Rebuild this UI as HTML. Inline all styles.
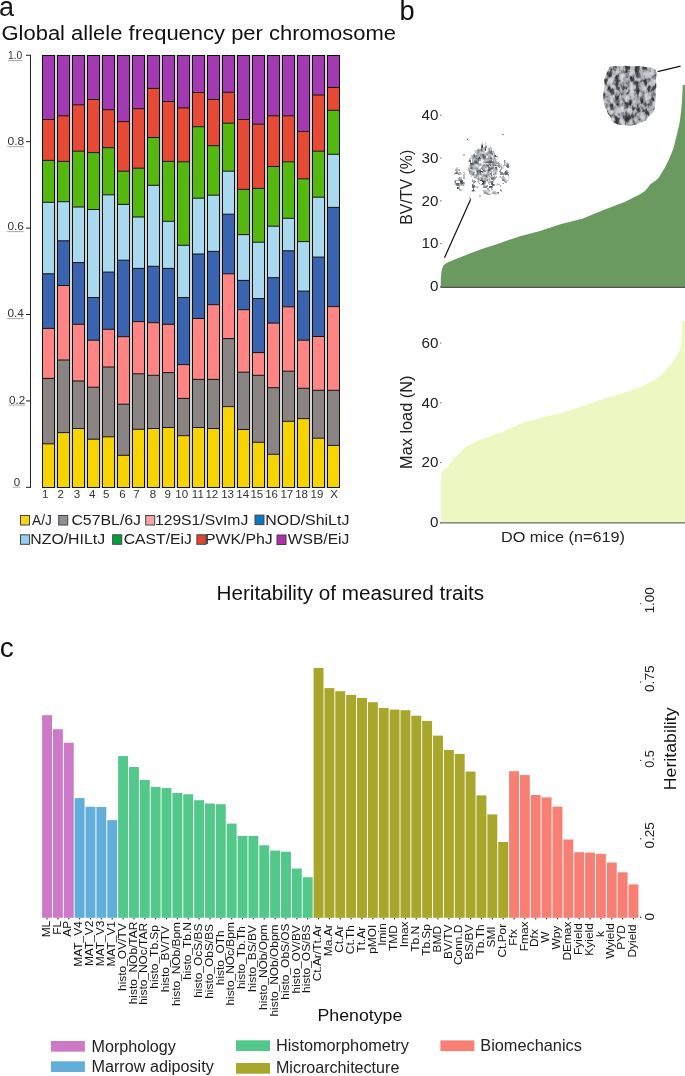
<!DOCTYPE html>
<html><head><meta charset="utf-8"><style>
html,body{margin:0;padding:0;background:#fff;overflow:hidden;}
svg{display:block;font-family:"Liberation Sans", sans-serif;will-change:transform;}
</style></head><body>
<svg width="685" height="1076" viewBox="0 0 685 1076">
<defs>
<filter id="blur1" x="-10%" y="-10%" width="120%" height="120%"><feGaussianBlur stdDeviation="0.35"/></filter>
<filter id="bonetex" x="595" y="60" width="70" height="72" filterUnits="userSpaceOnUse" color-interpolation-filters="sRGB">
  <feTurbulence type="fractalNoise" baseFrequency="0.2 0.14" numOctaves="3" seed="4" result="n"/>
  <feColorMatrix in="n" type="matrix" values="1 0 0 0 0  1 0 0 0 0  1 0 0 0 0  0 0 0 0 1" result="g0"/>
  <feComponentTransfer in="g0" result="g">
    <feFuncR type="table" tableValues="0.16 0.17 0.2 0.32 0.62 0.76 0.82 0.86 0.9"/>
    <feFuncG type="table" tableValues="0.17 0.18 0.21 0.33 0.63 0.77 0.83 0.87 0.91"/>
    <feFuncB type="table" tableValues="0.18 0.19 0.22 0.34 0.65 0.79 0.85 0.89 0.92"/>
  </feComponentTransfer>
  <feComposite in="g" in2="SourceAlpha" operator="in" result="c"/>
  <feGaussianBlur in="c" stdDeviation="0.35"/>
</filter>
<filter id="sparsetex" x="445" y="128" width="72" height="75" filterUnits="userSpaceOnUse" color-interpolation-filters="sRGB">
  <feTurbulence type="fractalNoise" baseFrequency="0.2" numOctaves="2" seed="9" result="n"/>
  <feColorMatrix in="n" type="matrix" values="1.4 0 0 0 -0.05  1.4 0 0 0 -0.035  1.4 0 0 0 -0.02  0 0 0 0 1" result="g"/>
  <feTurbulence type="fractalNoise" baseFrequency="0.22" numOctaves="2" seed="2" result="n2"/>
  <feComponentTransfer in="n2" result="m"><feFuncA type="discrete" tableValues="0 0 0 0 1 1 1 1"/></feComponentTransfer>
  <feComposite in="SourceAlpha" in2="m" operator="arithmetic" k1="1" k2="0" k3="0" k4="0" result="mask"/>
  <feComposite in="g" in2="mask" operator="in" result="c"/>
  <feGaussianBlur in="c" stdDeviation="0.3"/>
</filter>
<filter id="densetex" x="445" y="128" width="72" height="75" filterUnits="userSpaceOnUse" color-interpolation-filters="sRGB">
  <feTurbulence type="fractalNoise" baseFrequency="0.26 0.2" numOctaves="3" seed="12" result="n"/>
  <feColorMatrix in="n" type="matrix" values="1.5 0 0 0 -0.12  1.5 0 0 0 -0.105  1.5 0 0 0 -0.09  0 0 0 0 1" result="g"/>
  <feComposite in="g" in2="SourceAlpha" operator="in" result="c"/>
  <feGaussianBlur in="c" stdDeviation="0.3"/>
</filter>
</defs>
<rect width="685" height="1076" fill="#fff"/>
<rect x="42" y="55" width="298" height="433" fill="#d6d6d6"/>
<rect x="42.5" y="55.5" width="12" height="64.00" fill="#A43AB2"/>
<rect x="42.5" y="119.5" width="12" height="40.90" fill="#E64A35"/>
<rect x="42.5" y="160.4" width="12" height="41.90" fill="#55B80F"/>
<rect x="42.5" y="202.3" width="12" height="71.50" fill="#A9D9EF"/>
<rect x="42.5" y="273.8" width="12" height="54.60" fill="#3A64B0"/>
<rect x="42.5" y="328.4" width="12" height="50.00" fill="#FF8585"/>
<rect x="42.5" y="378.4" width="12" height="65.40" fill="#8A8583"/>
<rect x="42.5" y="443.8" width="12" height="43.70" fill="#F7D300"/>
<line x1="42.5" x2="54.5" y1="119.5" y2="119.5" stroke="#111" stroke-width="1"/>
<line x1="42.5" x2="54.5" y1="160.4" y2="160.4" stroke="#111" stroke-width="1"/>
<line x1="42.5" x2="54.5" y1="202.3" y2="202.3" stroke="#111" stroke-width="1"/>
<line x1="42.5" x2="54.5" y1="273.8" y2="273.8" stroke="#111" stroke-width="1"/>
<line x1="42.5" x2="54.5" y1="328.4" y2="328.4" stroke="#111" stroke-width="1"/>
<line x1="42.5" x2="54.5" y1="378.4" y2="378.4" stroke="#111" stroke-width="1"/>
<line x1="42.5" x2="54.5" y1="443.8" y2="443.8" stroke="#111" stroke-width="1"/>
<rect x="42.5" y="55.5" width="12" height="432.0" fill="none" stroke="#111" stroke-width="1"/>
<rect x="57.5" y="55.5" width="12" height="60.30" fill="#A43AB2"/>
<rect x="57.5" y="115.8" width="12" height="45.60" fill="#E64A35"/>
<rect x="57.5" y="161.4" width="12" height="40.30" fill="#55B80F"/>
<rect x="57.5" y="201.7" width="12" height="39.10" fill="#A9D9EF"/>
<rect x="57.5" y="240.8" width="12" height="44.70" fill="#3A64B0"/>
<rect x="57.5" y="285.5" width="12" height="74.50" fill="#FF8585"/>
<rect x="57.5" y="360" width="12" height="72.60" fill="#8A8583"/>
<rect x="57.5" y="432.6" width="12" height="54.90" fill="#F7D300"/>
<line x1="57.5" x2="69.5" y1="115.8" y2="115.8" stroke="#111" stroke-width="1"/>
<line x1="57.5" x2="69.5" y1="161.4" y2="161.4" stroke="#111" stroke-width="1"/>
<line x1="57.5" x2="69.5" y1="201.7" y2="201.7" stroke="#111" stroke-width="1"/>
<line x1="57.5" x2="69.5" y1="240.8" y2="240.8" stroke="#111" stroke-width="1"/>
<line x1="57.5" x2="69.5" y1="285.5" y2="285.5" stroke="#111" stroke-width="1"/>
<line x1="57.5" x2="69.5" y1="360" y2="360" stroke="#111" stroke-width="1"/>
<line x1="57.5" x2="69.5" y1="432.6" y2="432.6" stroke="#111" stroke-width="1"/>
<rect x="57.5" y="55.5" width="12" height="432.0" fill="none" stroke="#111" stroke-width="1"/>
<rect x="72.5" y="55.5" width="12" height="49.30" fill="#A43AB2"/>
<rect x="72.5" y="104.8" width="12" height="46.40" fill="#E64A35"/>
<rect x="72.5" y="151.2" width="12" height="55.80" fill="#55B80F"/>
<rect x="72.5" y="207.0" width="12" height="55.60" fill="#A9D9EF"/>
<rect x="72.5" y="262.6" width="12" height="61.70" fill="#3A64B0"/>
<rect x="72.5" y="324.3" width="12" height="56.70" fill="#FF8585"/>
<rect x="72.5" y="381" width="12" height="47.50" fill="#8A8583"/>
<rect x="72.5" y="428.5" width="12" height="59.00" fill="#F7D300"/>
<line x1="72.5" x2="84.5" y1="104.8" y2="104.8" stroke="#111" stroke-width="1"/>
<line x1="72.5" x2="84.5" y1="151.2" y2="151.2" stroke="#111" stroke-width="1"/>
<line x1="72.5" x2="84.5" y1="207.0" y2="207.0" stroke="#111" stroke-width="1"/>
<line x1="72.5" x2="84.5" y1="262.6" y2="262.6" stroke="#111" stroke-width="1"/>
<line x1="72.5" x2="84.5" y1="324.3" y2="324.3" stroke="#111" stroke-width="1"/>
<line x1="72.5" x2="84.5" y1="381" y2="381" stroke="#111" stroke-width="1"/>
<line x1="72.5" x2="84.5" y1="428.5" y2="428.5" stroke="#111" stroke-width="1"/>
<rect x="72.5" y="55.5" width="12" height="432.0" fill="none" stroke="#111" stroke-width="1"/>
<rect x="87.5" y="55.5" width="12" height="44.00" fill="#A43AB2"/>
<rect x="87.5" y="99.5" width="12" height="53.10" fill="#E64A35"/>
<rect x="87.5" y="152.6" width="12" height="56.90" fill="#55B80F"/>
<rect x="87.5" y="209.5" width="12" height="88.00" fill="#A9D9EF"/>
<rect x="87.5" y="297.5" width="12" height="42.70" fill="#3A64B0"/>
<rect x="87.5" y="340.2" width="12" height="47.00" fill="#FF8585"/>
<rect x="87.5" y="387.2" width="12" height="52.00" fill="#8A8583"/>
<rect x="87.5" y="439.2" width="12" height="48.30" fill="#F7D300"/>
<line x1="87.5" x2="99.5" y1="99.5" y2="99.5" stroke="#111" stroke-width="1"/>
<line x1="87.5" x2="99.5" y1="152.6" y2="152.6" stroke="#111" stroke-width="1"/>
<line x1="87.5" x2="99.5" y1="209.5" y2="209.5" stroke="#111" stroke-width="1"/>
<line x1="87.5" x2="99.5" y1="297.5" y2="297.5" stroke="#111" stroke-width="1"/>
<line x1="87.5" x2="99.5" y1="340.2" y2="340.2" stroke="#111" stroke-width="1"/>
<line x1="87.5" x2="99.5" y1="387.2" y2="387.2" stroke="#111" stroke-width="1"/>
<line x1="87.5" x2="99.5" y1="439.2" y2="439.2" stroke="#111" stroke-width="1"/>
<rect x="87.5" y="55.5" width="12" height="432.0" fill="none" stroke="#111" stroke-width="1"/>
<rect x="102.5" y="55.5" width="12" height="54.20" fill="#A43AB2"/>
<rect x="102.5" y="109.7" width="12" height="38.00" fill="#E64A35"/>
<rect x="102.5" y="147.7" width="12" height="47.10" fill="#55B80F"/>
<rect x="102.5" y="194.8" width="12" height="77.30" fill="#A9D9EF"/>
<rect x="102.5" y="272.1" width="12" height="57.20" fill="#3A64B0"/>
<rect x="102.5" y="329.3" width="12" height="37.70" fill="#FF8585"/>
<rect x="102.5" y="367" width="12" height="69.80" fill="#8A8583"/>
<rect x="102.5" y="436.8" width="12" height="50.70" fill="#F7D300"/>
<line x1="102.5" x2="114.5" y1="109.7" y2="109.7" stroke="#111" stroke-width="1"/>
<line x1="102.5" x2="114.5" y1="147.7" y2="147.7" stroke="#111" stroke-width="1"/>
<line x1="102.5" x2="114.5" y1="194.8" y2="194.8" stroke="#111" stroke-width="1"/>
<line x1="102.5" x2="114.5" y1="272.1" y2="272.1" stroke="#111" stroke-width="1"/>
<line x1="102.5" x2="114.5" y1="329.3" y2="329.3" stroke="#111" stroke-width="1"/>
<line x1="102.5" x2="114.5" y1="367" y2="367" stroke="#111" stroke-width="1"/>
<line x1="102.5" x2="114.5" y1="436.8" y2="436.8" stroke="#111" stroke-width="1"/>
<rect x="102.5" y="55.5" width="12" height="432.0" fill="none" stroke="#111" stroke-width="1"/>
<rect x="117.5" y="55.5" width="12" height="66.10" fill="#A43AB2"/>
<rect x="117.5" y="121.6" width="12" height="49.60" fill="#E64A35"/>
<rect x="117.5" y="171.2" width="12" height="33.20" fill="#55B80F"/>
<rect x="117.5" y="204.4" width="12" height="55.80" fill="#A9D9EF"/>
<rect x="117.5" y="260.2" width="12" height="76.50" fill="#3A64B0"/>
<rect x="117.5" y="336.7" width="12" height="67.50" fill="#FF8585"/>
<rect x="117.5" y="404.2" width="12" height="51.10" fill="#8A8583"/>
<rect x="117.5" y="455.3" width="12" height="32.20" fill="#F7D300"/>
<line x1="117.5" x2="129.5" y1="121.6" y2="121.6" stroke="#111" stroke-width="1"/>
<line x1="117.5" x2="129.5" y1="171.2" y2="171.2" stroke="#111" stroke-width="1"/>
<line x1="117.5" x2="129.5" y1="204.4" y2="204.4" stroke="#111" stroke-width="1"/>
<line x1="117.5" x2="129.5" y1="260.2" y2="260.2" stroke="#111" stroke-width="1"/>
<line x1="117.5" x2="129.5" y1="336.7" y2="336.7" stroke="#111" stroke-width="1"/>
<line x1="117.5" x2="129.5" y1="404.2" y2="404.2" stroke="#111" stroke-width="1"/>
<line x1="117.5" x2="129.5" y1="455.3" y2="455.3" stroke="#111" stroke-width="1"/>
<rect x="117.5" y="55.5" width="12" height="432.0" fill="none" stroke="#111" stroke-width="1"/>
<rect x="132.5" y="55.5" width="12" height="53.20" fill="#A43AB2"/>
<rect x="132.5" y="108.7" width="12" height="59.50" fill="#E64A35"/>
<rect x="132.5" y="168.2" width="12" height="48.80" fill="#55B80F"/>
<rect x="132.5" y="217" width="12" height="51.40" fill="#A9D9EF"/>
<rect x="132.5" y="268.4" width="12" height="53.20" fill="#3A64B0"/>
<rect x="132.5" y="321.6" width="12" height="52.20" fill="#FF8585"/>
<rect x="132.5" y="373.8" width="12" height="55.50" fill="#8A8583"/>
<rect x="132.5" y="429.3" width="12" height="58.20" fill="#F7D300"/>
<line x1="132.5" x2="144.5" y1="108.7" y2="108.7" stroke="#111" stroke-width="1"/>
<line x1="132.5" x2="144.5" y1="168.2" y2="168.2" stroke="#111" stroke-width="1"/>
<line x1="132.5" x2="144.5" y1="217" y2="217" stroke="#111" stroke-width="1"/>
<line x1="132.5" x2="144.5" y1="268.4" y2="268.4" stroke="#111" stroke-width="1"/>
<line x1="132.5" x2="144.5" y1="321.6" y2="321.6" stroke="#111" stroke-width="1"/>
<line x1="132.5" x2="144.5" y1="373.8" y2="373.8" stroke="#111" stroke-width="1"/>
<line x1="132.5" x2="144.5" y1="429.3" y2="429.3" stroke="#111" stroke-width="1"/>
<rect x="132.5" y="55.5" width="12" height="432.0" fill="none" stroke="#111" stroke-width="1"/>
<rect x="147.5" y="55.5" width="12" height="32.90" fill="#A43AB2"/>
<rect x="147.5" y="88.4" width="12" height="49.10" fill="#E64A35"/>
<rect x="147.5" y="137.5" width="12" height="47.80" fill="#55B80F"/>
<rect x="147.5" y="185.3" width="12" height="81.00" fill="#A9D9EF"/>
<rect x="147.5" y="266.3" width="12" height="56.40" fill="#3A64B0"/>
<rect x="147.5" y="322.7" width="12" height="52.60" fill="#FF8585"/>
<rect x="147.5" y="375.3" width="12" height="53.20" fill="#8A8583"/>
<rect x="147.5" y="428.5" width="12" height="59.00" fill="#F7D300"/>
<line x1="147.5" x2="159.5" y1="88.4" y2="88.4" stroke="#111" stroke-width="1"/>
<line x1="147.5" x2="159.5" y1="137.5" y2="137.5" stroke="#111" stroke-width="1"/>
<line x1="147.5" x2="159.5" y1="185.3" y2="185.3" stroke="#111" stroke-width="1"/>
<line x1="147.5" x2="159.5" y1="266.3" y2="266.3" stroke="#111" stroke-width="1"/>
<line x1="147.5" x2="159.5" y1="322.7" y2="322.7" stroke="#111" stroke-width="1"/>
<line x1="147.5" x2="159.5" y1="375.3" y2="375.3" stroke="#111" stroke-width="1"/>
<line x1="147.5" x2="159.5" y1="428.5" y2="428.5" stroke="#111" stroke-width="1"/>
<rect x="147.5" y="55.5" width="12" height="432.0" fill="none" stroke="#111" stroke-width="1"/>
<rect x="162.5" y="55.5" width="12" height="46.00" fill="#A43AB2"/>
<rect x="162.5" y="101.5" width="12" height="59.90" fill="#E64A35"/>
<rect x="162.5" y="161.4" width="12" height="59.90" fill="#55B80F"/>
<rect x="162.5" y="221.3" width="12" height="47.10" fill="#A9D9EF"/>
<rect x="162.5" y="268.4" width="12" height="55.90" fill="#3A64B0"/>
<rect x="162.5" y="324.3" width="12" height="48.30" fill="#FF8585"/>
<rect x="162.5" y="372.6" width="12" height="54.90" fill="#8A8583"/>
<rect x="162.5" y="427.5" width="12" height="60.00" fill="#F7D300"/>
<line x1="162.5" x2="174.5" y1="101.5" y2="101.5" stroke="#111" stroke-width="1"/>
<line x1="162.5" x2="174.5" y1="161.4" y2="161.4" stroke="#111" stroke-width="1"/>
<line x1="162.5" x2="174.5" y1="221.3" y2="221.3" stroke="#111" stroke-width="1"/>
<line x1="162.5" x2="174.5" y1="268.4" y2="268.4" stroke="#111" stroke-width="1"/>
<line x1="162.5" x2="174.5" y1="324.3" y2="324.3" stroke="#111" stroke-width="1"/>
<line x1="162.5" x2="174.5" y1="372.6" y2="372.6" stroke="#111" stroke-width="1"/>
<line x1="162.5" x2="174.5" y1="427.5" y2="427.5" stroke="#111" stroke-width="1"/>
<rect x="162.5" y="55.5" width="12" height="432.0" fill="none" stroke="#111" stroke-width="1"/>
<rect x="177.5" y="55.5" width="12" height="52.40" fill="#A43AB2"/>
<rect x="177.5" y="107.9" width="12" height="53.90" fill="#E64A35"/>
<rect x="177.5" y="161.8" width="12" height="83.50" fill="#55B80F"/>
<rect x="177.5" y="245.3" width="12" height="52.20" fill="#A9D9EF"/>
<rect x="177.5" y="297.5" width="12" height="67.10" fill="#3A64B0"/>
<rect x="177.5" y="364.6" width="12" height="33.80" fill="#FF8585"/>
<rect x="177.5" y="398.4" width="12" height="37.30" fill="#8A8583"/>
<rect x="177.5" y="435.7" width="12" height="51.80" fill="#F7D300"/>
<line x1="177.5" x2="189.5" y1="107.9" y2="107.9" stroke="#111" stroke-width="1"/>
<line x1="177.5" x2="189.5" y1="161.8" y2="161.8" stroke="#111" stroke-width="1"/>
<line x1="177.5" x2="189.5" y1="245.3" y2="245.3" stroke="#111" stroke-width="1"/>
<line x1="177.5" x2="189.5" y1="297.5" y2="297.5" stroke="#111" stroke-width="1"/>
<line x1="177.5" x2="189.5" y1="364.6" y2="364.6" stroke="#111" stroke-width="1"/>
<line x1="177.5" x2="189.5" y1="398.4" y2="398.4" stroke="#111" stroke-width="1"/>
<line x1="177.5" x2="189.5" y1="435.7" y2="435.7" stroke="#111" stroke-width="1"/>
<rect x="177.5" y="55.5" width="12" height="432.0" fill="none" stroke="#111" stroke-width="1"/>
<rect x="192.5" y="55.5" width="12" height="37.00" fill="#A43AB2"/>
<rect x="192.5" y="92.5" width="12" height="34.20" fill="#E64A35"/>
<rect x="192.5" y="126.7" width="12" height="71.50" fill="#55B80F"/>
<rect x="192.5" y="198.2" width="12" height="55.80" fill="#A9D9EF"/>
<rect x="192.5" y="254" width="12" height="64.50" fill="#3A64B0"/>
<rect x="192.5" y="318.5" width="12" height="60.90" fill="#FF8585"/>
<rect x="192.5" y="379.4" width="12" height="48.10" fill="#8A8583"/>
<rect x="192.5" y="427.5" width="12" height="60.00" fill="#F7D300"/>
<line x1="192.5" x2="204.5" y1="92.5" y2="92.5" stroke="#111" stroke-width="1"/>
<line x1="192.5" x2="204.5" y1="126.7" y2="126.7" stroke="#111" stroke-width="1"/>
<line x1="192.5" x2="204.5" y1="198.2" y2="198.2" stroke="#111" stroke-width="1"/>
<line x1="192.5" x2="204.5" y1="254" y2="254" stroke="#111" stroke-width="1"/>
<line x1="192.5" x2="204.5" y1="318.5" y2="318.5" stroke="#111" stroke-width="1"/>
<line x1="192.5" x2="204.5" y1="379.4" y2="379.4" stroke="#111" stroke-width="1"/>
<line x1="192.5" x2="204.5" y1="427.5" y2="427.5" stroke="#111" stroke-width="1"/>
<rect x="192.5" y="55.5" width="12" height="432.0" fill="none" stroke="#111" stroke-width="1"/>
<rect x="207.5" y="55.5" width="12" height="44.00" fill="#A43AB2"/>
<rect x="207.5" y="99.5" width="12" height="46.20" fill="#E64A35"/>
<rect x="207.5" y="145.7" width="12" height="49.50" fill="#55B80F"/>
<rect x="207.5" y="195.2" width="12" height="56.20" fill="#A9D9EF"/>
<rect x="207.5" y="251.4" width="12" height="53.30" fill="#3A64B0"/>
<rect x="207.5" y="304.7" width="12" height="74.70" fill="#FF8585"/>
<rect x="207.5" y="379.4" width="12" height="49.10" fill="#8A8583"/>
<rect x="207.5" y="428.5" width="12" height="59.00" fill="#F7D300"/>
<line x1="207.5" x2="219.5" y1="99.5" y2="99.5" stroke="#111" stroke-width="1"/>
<line x1="207.5" x2="219.5" y1="145.7" y2="145.7" stroke="#111" stroke-width="1"/>
<line x1="207.5" x2="219.5" y1="195.2" y2="195.2" stroke="#111" stroke-width="1"/>
<line x1="207.5" x2="219.5" y1="251.4" y2="251.4" stroke="#111" stroke-width="1"/>
<line x1="207.5" x2="219.5" y1="304.7" y2="304.7" stroke="#111" stroke-width="1"/>
<line x1="207.5" x2="219.5" y1="379.4" y2="379.4" stroke="#111" stroke-width="1"/>
<line x1="207.5" x2="219.5" y1="428.5" y2="428.5" stroke="#111" stroke-width="1"/>
<rect x="207.5" y="55.5" width="12" height="432.0" fill="none" stroke="#111" stroke-width="1"/>
<rect x="222.5" y="55.5" width="12" height="36.80" fill="#A43AB2"/>
<rect x="222.5" y="92.3" width="12" height="30.90" fill="#E64A35"/>
<rect x="222.5" y="123.2" width="12" height="48.00" fill="#55B80F"/>
<rect x="222.5" y="171.2" width="12" height="43.00" fill="#A9D9EF"/>
<rect x="222.5" y="214.2" width="12" height="59.60" fill="#3A64B0"/>
<rect x="222.5" y="273.8" width="12" height="64.80" fill="#FF8585"/>
<rect x="222.5" y="338.6" width="12" height="68.00" fill="#8A8583"/>
<rect x="222.5" y="406.6" width="12" height="80.90" fill="#F7D300"/>
<line x1="222.5" x2="234.5" y1="92.3" y2="92.3" stroke="#111" stroke-width="1"/>
<line x1="222.5" x2="234.5" y1="123.2" y2="123.2" stroke="#111" stroke-width="1"/>
<line x1="222.5" x2="234.5" y1="171.2" y2="171.2" stroke="#111" stroke-width="1"/>
<line x1="222.5" x2="234.5" y1="214.2" y2="214.2" stroke="#111" stroke-width="1"/>
<line x1="222.5" x2="234.5" y1="273.8" y2="273.8" stroke="#111" stroke-width="1"/>
<line x1="222.5" x2="234.5" y1="338.6" y2="338.6" stroke="#111" stroke-width="1"/>
<line x1="222.5" x2="234.5" y1="406.6" y2="406.6" stroke="#111" stroke-width="1"/>
<rect x="222.5" y="55.5" width="12" height="432.0" fill="none" stroke="#111" stroke-width="1"/>
<rect x="237.5" y="55.5" width="12" height="64.00" fill="#A43AB2"/>
<rect x="237.5" y="119.5" width="12" height="69.90" fill="#E64A35"/>
<rect x="237.5" y="189.4" width="12" height="45.20" fill="#55B80F"/>
<rect x="237.5" y="234.6" width="12" height="45.80" fill="#A9D9EF"/>
<rect x="237.5" y="280.4" width="12" height="29.30" fill="#3A64B0"/>
<rect x="237.5" y="309.7" width="12" height="62.50" fill="#FF8585"/>
<rect x="237.5" y="372.2" width="12" height="57.30" fill="#8A8583"/>
<rect x="237.5" y="429.5" width="12" height="58.00" fill="#F7D300"/>
<line x1="237.5" x2="249.5" y1="119.5" y2="119.5" stroke="#111" stroke-width="1"/>
<line x1="237.5" x2="249.5" y1="189.4" y2="189.4" stroke="#111" stroke-width="1"/>
<line x1="237.5" x2="249.5" y1="234.6" y2="234.6" stroke="#111" stroke-width="1"/>
<line x1="237.5" x2="249.5" y1="280.4" y2="280.4" stroke="#111" stroke-width="1"/>
<line x1="237.5" x2="249.5" y1="309.7" y2="309.7" stroke="#111" stroke-width="1"/>
<line x1="237.5" x2="249.5" y1="372.2" y2="372.2" stroke="#111" stroke-width="1"/>
<line x1="237.5" x2="249.5" y1="429.5" y2="429.5" stroke="#111" stroke-width="1"/>
<rect x="237.5" y="55.5" width="12" height="432.0" fill="none" stroke="#111" stroke-width="1"/>
<rect x="252.5" y="55.5" width="12" height="68.70" fill="#A43AB2"/>
<rect x="252.5" y="124.2" width="12" height="64.20" fill="#E64A35"/>
<rect x="252.5" y="188.4" width="12" height="53.80" fill="#55B80F"/>
<rect x="252.5" y="242.2" width="12" height="56.30" fill="#A9D9EF"/>
<rect x="252.5" y="298.5" width="12" height="54.10" fill="#3A64B0"/>
<rect x="252.5" y="352.6" width="12" height="22.70" fill="#FF8585"/>
<rect x="252.5" y="375.3" width="12" height="67.00" fill="#8A8583"/>
<rect x="252.5" y="442.3" width="12" height="45.20" fill="#F7D300"/>
<line x1="252.5" x2="264.5" y1="124.2" y2="124.2" stroke="#111" stroke-width="1"/>
<line x1="252.5" x2="264.5" y1="188.4" y2="188.4" stroke="#111" stroke-width="1"/>
<line x1="252.5" x2="264.5" y1="242.2" y2="242.2" stroke="#111" stroke-width="1"/>
<line x1="252.5" x2="264.5" y1="298.5" y2="298.5" stroke="#111" stroke-width="1"/>
<line x1="252.5" x2="264.5" y1="352.6" y2="352.6" stroke="#111" stroke-width="1"/>
<line x1="252.5" x2="264.5" y1="375.3" y2="375.3" stroke="#111" stroke-width="1"/>
<line x1="252.5" x2="264.5" y1="442.3" y2="442.3" stroke="#111" stroke-width="1"/>
<rect x="252.5" y="55.5" width="12" height="432.0" fill="none" stroke="#111" stroke-width="1"/>
<rect x="267.5" y="55.5" width="12" height="60.30" fill="#A43AB2"/>
<rect x="267.5" y="115.8" width="12" height="50.70" fill="#E64A35"/>
<rect x="267.5" y="166.5" width="12" height="59.70" fill="#55B80F"/>
<rect x="267.5" y="226.2" width="12" height="51.50" fill="#A9D9EF"/>
<rect x="267.5" y="277.7" width="12" height="45.40" fill="#3A64B0"/>
<rect x="267.5" y="323.1" width="12" height="64.60" fill="#FF8585"/>
<rect x="267.5" y="387.7" width="12" height="66.60" fill="#8A8583"/>
<rect x="267.5" y="454.3" width="12" height="33.20" fill="#F7D300"/>
<line x1="267.5" x2="279.5" y1="115.8" y2="115.8" stroke="#111" stroke-width="1"/>
<line x1="267.5" x2="279.5" y1="166.5" y2="166.5" stroke="#111" stroke-width="1"/>
<line x1="267.5" x2="279.5" y1="226.2" y2="226.2" stroke="#111" stroke-width="1"/>
<line x1="267.5" x2="279.5" y1="277.7" y2="277.7" stroke="#111" stroke-width="1"/>
<line x1="267.5" x2="279.5" y1="323.1" y2="323.1" stroke="#111" stroke-width="1"/>
<line x1="267.5" x2="279.5" y1="387.7" y2="387.7" stroke="#111" stroke-width="1"/>
<line x1="267.5" x2="279.5" y1="454.3" y2="454.3" stroke="#111" stroke-width="1"/>
<rect x="267.5" y="55.5" width="12" height="432.0" fill="none" stroke="#111" stroke-width="1"/>
<rect x="282.5" y="55.5" width="12" height="60.30" fill="#A43AB2"/>
<rect x="282.5" y="115.8" width="12" height="46.00" fill="#E64A35"/>
<rect x="282.5" y="161.8" width="12" height="56.50" fill="#55B80F"/>
<rect x="282.5" y="218.3" width="12" height="32.50" fill="#A9D9EF"/>
<rect x="282.5" y="250.8" width="12" height="56.00" fill="#3A64B0"/>
<rect x="282.5" y="306.8" width="12" height="64.40" fill="#FF8585"/>
<rect x="282.5" y="371.2" width="12" height="50.10" fill="#8A8583"/>
<rect x="282.5" y="421.3" width="12" height="66.20" fill="#F7D300"/>
<line x1="282.5" x2="294.5" y1="115.8" y2="115.8" stroke="#111" stroke-width="1"/>
<line x1="282.5" x2="294.5" y1="161.8" y2="161.8" stroke="#111" stroke-width="1"/>
<line x1="282.5" x2="294.5" y1="218.3" y2="218.3" stroke="#111" stroke-width="1"/>
<line x1="282.5" x2="294.5" y1="250.8" y2="250.8" stroke="#111" stroke-width="1"/>
<line x1="282.5" x2="294.5" y1="306.8" y2="306.8" stroke="#111" stroke-width="1"/>
<line x1="282.5" x2="294.5" y1="371.2" y2="371.2" stroke="#111" stroke-width="1"/>
<line x1="282.5" x2="294.5" y1="421.3" y2="421.3" stroke="#111" stroke-width="1"/>
<rect x="282.5" y="55.5" width="12" height="432.0" fill="none" stroke="#111" stroke-width="1"/>
<rect x="297.5" y="55.5" width="12" height="75.90" fill="#A43AB2"/>
<rect x="297.5" y="131.4" width="12" height="47.40" fill="#E64A35"/>
<rect x="297.5" y="178.8" width="12" height="62.80" fill="#55B80F"/>
<rect x="297.5" y="241.6" width="12" height="49.50" fill="#A9D9EF"/>
<rect x="297.5" y="291.1" width="12" height="49.10" fill="#3A64B0"/>
<rect x="297.5" y="340.2" width="12" height="48.10" fill="#FF8585"/>
<rect x="297.5" y="388.3" width="12" height="30.30" fill="#8A8583"/>
<rect x="297.5" y="418.6" width="12" height="68.90" fill="#F7D300"/>
<line x1="297.5" x2="309.5" y1="131.4" y2="131.4" stroke="#111" stroke-width="1"/>
<line x1="297.5" x2="309.5" y1="178.8" y2="178.8" stroke="#111" stroke-width="1"/>
<line x1="297.5" x2="309.5" y1="241.6" y2="241.6" stroke="#111" stroke-width="1"/>
<line x1="297.5" x2="309.5" y1="291.1" y2="291.1" stroke="#111" stroke-width="1"/>
<line x1="297.5" x2="309.5" y1="340.2" y2="340.2" stroke="#111" stroke-width="1"/>
<line x1="297.5" x2="309.5" y1="388.3" y2="388.3" stroke="#111" stroke-width="1"/>
<line x1="297.5" x2="309.5" y1="418.6" y2="418.6" stroke="#111" stroke-width="1"/>
<rect x="297.5" y="55.5" width="12" height="432.0" fill="none" stroke="#111" stroke-width="1"/>
<rect x="312.5" y="55.5" width="12" height="39.50" fill="#A43AB2"/>
<rect x="312.5" y="95" width="12" height="56.20" fill="#E64A35"/>
<rect x="312.5" y="151.2" width="12" height="46.00" fill="#55B80F"/>
<rect x="312.5" y="197.2" width="12" height="59.90" fill="#A9D9EF"/>
<rect x="312.5" y="257.1" width="12" height="79.40" fill="#3A64B0"/>
<rect x="312.5" y="336.5" width="12" height="53.80" fill="#FF8585"/>
<rect x="312.5" y="390.3" width="12" height="47.90" fill="#8A8583"/>
<rect x="312.5" y="438.2" width="12" height="49.30" fill="#F7D300"/>
<line x1="312.5" x2="324.5" y1="95" y2="95" stroke="#111" stroke-width="1"/>
<line x1="312.5" x2="324.5" y1="151.2" y2="151.2" stroke="#111" stroke-width="1"/>
<line x1="312.5" x2="324.5" y1="197.2" y2="197.2" stroke="#111" stroke-width="1"/>
<line x1="312.5" x2="324.5" y1="257.1" y2="257.1" stroke="#111" stroke-width="1"/>
<line x1="312.5" x2="324.5" y1="336.5" y2="336.5" stroke="#111" stroke-width="1"/>
<line x1="312.5" x2="324.5" y1="390.3" y2="390.3" stroke="#111" stroke-width="1"/>
<line x1="312.5" x2="324.5" y1="438.2" y2="438.2" stroke="#111" stroke-width="1"/>
<rect x="312.5" y="55.5" width="12" height="432.0" fill="none" stroke="#111" stroke-width="1"/>
<rect x="327.5" y="55.5" width="12" height="31.90" fill="#A43AB2"/>
<rect x="327.5" y="87.4" width="12" height="22.90" fill="#E64A35"/>
<rect x="327.5" y="110.3" width="12" height="44.00" fill="#55B80F"/>
<rect x="327.5" y="154.3" width="12" height="53.10" fill="#A9D9EF"/>
<rect x="327.5" y="207.4" width="12" height="99.20" fill="#3A64B0"/>
<rect x="327.5" y="306.6" width="12" height="83.70" fill="#FF8585"/>
<rect x="327.5" y="390.3" width="12" height="55.10" fill="#8A8583"/>
<rect x="327.5" y="445.4" width="12" height="42.10" fill="#F7D300"/>
<line x1="327.5" x2="339.5" y1="87.4" y2="87.4" stroke="#111" stroke-width="1"/>
<line x1="327.5" x2="339.5" y1="110.3" y2="110.3" stroke="#111" stroke-width="1"/>
<line x1="327.5" x2="339.5" y1="154.3" y2="154.3" stroke="#111" stroke-width="1"/>
<line x1="327.5" x2="339.5" y1="207.4" y2="207.4" stroke="#111" stroke-width="1"/>
<line x1="327.5" x2="339.5" y1="306.6" y2="306.6" stroke="#111" stroke-width="1"/>
<line x1="327.5" x2="339.5" y1="390.3" y2="390.3" stroke="#111" stroke-width="1"/>
<line x1="327.5" x2="339.5" y1="445.4" y2="445.4" stroke="#111" stroke-width="1"/>
<rect x="327.5" y="55.5" width="12" height="432.0" fill="none" stroke="#111" stroke-width="1"/>
<line x1="30.5" x2="30.5" y1="54.8" y2="487.8" stroke="#222" stroke-width="1"/>
<line x1="26" x2="30.5" y1="55.3" y2="55.3" stroke="#222" stroke-width="1"/>
<line x1="8.0" x2="22.2" y1="60.5" y2="60.5" stroke="#aaa" stroke-width="1"/>
<line x1="26" x2="30.5" y1="141.7" y2="141.7" stroke="#222" stroke-width="1"/>
<line x1="7.1" x2="24.0" y1="146.7" y2="146.7" stroke="#aaa" stroke-width="1"/>
<line x1="26" x2="30.5" y1="228.1" y2="228.1" stroke="#222" stroke-width="1"/>
<line x1="7.0" x2="23.7" y1="231.6" y2="231.6" stroke="#aaa" stroke-width="1"/>
<line x1="26" x2="30.5" y1="314.5" y2="314.5" stroke="#222" stroke-width="1"/>
<line x1="7.0" x2="23.7" y1="318.6" y2="318.6" stroke="#aaa" stroke-width="1"/>
<line x1="26" x2="30.5" y1="400.9" y2="400.9" stroke="#222" stroke-width="1"/>
<line x1="8.7" x2="25.1" y1="405.1" y2="405.1" stroke="#aaa" stroke-width="1"/>
<line x1="26" x2="30.5" y1="487.3" y2="487.3" stroke="#222" stroke-width="1"/>
<line x1="12.8" x2="20.4" y1="487.2" y2="487.2" stroke="#aaa" stroke-width="1"/>
<rect x="20.5" y="515.5" width="9" height="9.5" fill="#F8D31E" stroke="#444" stroke-width="1"/>
<rect x="58.7" y="515.5" width="9" height="9.5" fill="#8E9096" stroke="#444" stroke-width="1"/>
<rect x="145.7" y="515.5" width="9" height="9.5" fill="#F6A5A5" stroke="#444" stroke-width="1"/>
<rect x="255.0" y="515.1" width="9" height="9.5" fill="#0A78C2" stroke="#444" stroke-width="1"/>
<rect x="20.5" y="534.8" width="9" height="9.5" fill="#92D0EE" stroke="#444" stroke-width="1"/>
<rect x="112.7" y="534.8" width="9" height="9.5" fill="#00A03E" stroke="#444" stroke-width="1"/>
<rect x="196.9" y="534.8" width="9" height="9.5" fill="#E8432E" stroke="#444" stroke-width="1"/>
<rect x="277.0" y="535.0" width="9" height="9.5" fill="#B02FA8" stroke="#444" stroke-width="1"/>
<rect x="440" y="114.7" width="1.6" height="1" fill="#777"/>
<rect x="440" y="157.5" width="1.6" height="1" fill="#777"/>
<rect x="440" y="200.3" width="1.6" height="1" fill="#777"/>
<rect x="440" y="243.1" width="1.6" height="1" fill="#777"/>
<rect x="440" y="285.9" width="1.6" height="1" fill="#777"/>
<polygon points="440.8,287.5 440.8,279.4 441.4,271.5 442.6,267.2 443.9,265 446.5,263 453.5,260 462.3,256.6 471,253.1 479.8,249.8 485,247.9 496,244.4 519.9,236.2 540,231 561.2,224 582.3,218.7 603.5,209.9 624.7,202 639.5,194.6 645,191 648,187.6 650,184.5 655,181 658.5,178.1 664.9,167.5 669.1,159 673.4,148.5 675.5,140 677.5,132 679.5,123.5 681,112 682,101.8 682.5,92 682.8,85 685,85 685,287.5" fill="#6A9A60"/>
<line x1="440.4" x2="685" y1="287.3" y2="287.3" stroke="#3a3a3a" stroke-width="1"/>
<rect x="440" y="342.5" width="1.6" height="1" fill="#777"/>
<rect x="440" y="402.3" width="1.6" height="1" fill="#777"/>
<rect x="440" y="462.1" width="1.6" height="1" fill="#777"/>
<rect x="440" y="521.9" width="1.6" height="1" fill="#777"/>
<polygon points="441.1,523 441.1,475.5 441.8,472.6 444,469.6 447.7,467.4 450.6,463.1 453.5,458 457.9,455 461.5,451.4 465.2,447 472.5,443.4 479.8,439.7 487.1,437.5 494.4,434.6 501.7,432.4 509,428.8 516.3,425.8 523.6,422.2 530,420.9 541.3,417.5 552.6,415.2 563.9,412.3 575.3,408.4 586.6,405 597.9,400.5 609.2,397.1 620.5,393.7 631.8,390.3 643.1,385.8 654.5,379.7 661.2,375.6 665.8,370 671.4,364.3 674.8,358.7 678.2,353 680.5,348.5 681.6,341.7 682.1,321 685,321 685,523" fill="#ECF7C1"/>
<line x1="440.4" x2="685" y1="522.9" y2="522.9" stroke="#4a4a4a" stroke-width="1"/>
<polygon points="609.2,67.0 612.0,65.8 618.0,66.4 625.0,65.8 632.0,66.6 640.0,66.0 647.0,67.2 652.0,67.8 655.5,69.5 656.8,74.0 655.8,80.0 656.4,86.0 655.6,92.0 656.0,98.0 655.0,104.0 654.5,110.0 652.0,113.5 649.0,116.0 646.0,120.5 641.0,122.6 636.0,124.5 630.0,125.8 624.0,125.2 618.0,124.6 614.0,122.8 611.5,121.0 610.5,117.0 608.0,114.0 606.5,110.0 604.5,106.0 603.8,101.0 603.2,96.0 603.5,92.0 604.6,86.0 604.2,80.0 605.4,76.0 607.0,72.0" fill="#000" filter="url(#bonetex)"/>
<g filter="url(#densetex)">
<polygon points="472,160 474,153 476,156 478,148 480,153 482,142 484,150 486,141 488,150 491,146 492,152 495,150 495,157 497,163 497.5,172 495,178 489,181.5 481,181 474,178 471.5,170" fill="#000"/>
</g>
<g filter="url(#sparsetex)">
<ellipse cx="484" cy="166" rx="16" ry="19" fill="#000" fill-opacity="1.0"/>
<ellipse cx="459.5" cy="179" rx="5.5" ry="14" fill="#000" fill-opacity="1.0"/>
<ellipse cx="492" cy="189" rx="11" ry="6.5" fill="#000" fill-opacity="1.0"/>
<ellipse cx="504.5" cy="172" rx="5.5" ry="12" fill="#000" fill-opacity="1.0"/>
<ellipse cx="474" cy="185" rx="4" ry="7" fill="#000" fill-opacity="1.0"/>
</g>
<circle cx="467.5" cy="139.5" r="0.7" fill="#555"/>
<circle cx="503" cy="134.5" r="0.7" fill="#555"/>
<circle cx="464" cy="155" r="0.7" fill="#555"/>
<circle cx="470" cy="198" r="0.7" fill="#555"/>
<circle cx="480" cy="196" r="0.7" fill="#555"/>
<line x1="657.6" y1="71.6" x2="680.6" y2="66.2" stroke="#111" stroke-width="1.2"/>
<line x1="470.7" y1="199.2" x2="444.5" y2="257.7" stroke="#111" stroke-width="1.2"/>
<rect x="42.10" y="715.2" width="9.9" height="202.60" fill="#CC79C7"/>
<circle cx="47.05" cy="918.8" r="0.7" fill="#222"/>
<rect x="52.96" y="729.2" width="9.9" height="188.60" fill="#CC79C7"/>
<circle cx="57.91" cy="918.8" r="0.7" fill="#222"/>
<rect x="63.82" y="742.7" width="9.9" height="175.10" fill="#CC79C7"/>
<circle cx="68.77" cy="918.8" r="0.7" fill="#222"/>
<rect x="74.68" y="798.1" width="9.9" height="119.70" fill="#62AEDA"/>
<circle cx="79.63" cy="918.8" r="0.7" fill="#222"/>
<rect x="85.54" y="806.8" width="9.9" height="111.00" fill="#62AEDA"/>
<circle cx="90.49" cy="918.8" r="0.7" fill="#222"/>
<rect x="96.40" y="807" width="9.9" height="110.80" fill="#62AEDA"/>
<circle cx="101.35" cy="918.8" r="0.7" fill="#222"/>
<rect x="107.26" y="820.1" width="9.9" height="97.70" fill="#62AEDA"/>
<circle cx="112.21" cy="918.8" r="0.7" fill="#222"/>
<rect x="118.12" y="756.1" width="9.9" height="161.70" fill="#52C88A"/>
<circle cx="123.07" cy="918.8" r="0.7" fill="#222"/>
<rect x="128.98" y="767" width="9.9" height="150.80" fill="#52C88A"/>
<circle cx="133.93" cy="918.8" r="0.7" fill="#222"/>
<rect x="139.84" y="779.9" width="9.9" height="137.90" fill="#52C88A"/>
<circle cx="144.79" cy="918.8" r="0.7" fill="#222"/>
<rect x="150.70" y="786.9" width="9.9" height="130.90" fill="#52C88A"/>
<circle cx="155.65" cy="918.8" r="0.7" fill="#222"/>
<rect x="161.56" y="788.1" width="9.9" height="129.70" fill="#52C88A"/>
<circle cx="166.51" cy="918.8" r="0.7" fill="#222"/>
<rect x="172.42" y="793" width="9.9" height="124.80" fill="#52C88A"/>
<circle cx="177.37" cy="918.8" r="0.7" fill="#222"/>
<rect x="183.28" y="794.3" width="9.9" height="123.50" fill="#52C88A"/>
<circle cx="188.23" cy="918.8" r="0.7" fill="#222"/>
<rect x="194.14" y="800.2" width="9.9" height="117.60" fill="#52C88A"/>
<circle cx="199.09" cy="918.8" r="0.7" fill="#222"/>
<rect x="205.00" y="803.5" width="9.9" height="114.30" fill="#52C88A"/>
<circle cx="209.95" cy="918.8" r="0.7" fill="#222"/>
<rect x="215.86" y="804.2" width="9.9" height="113.60" fill="#52C88A"/>
<circle cx="220.81" cy="918.8" r="0.7" fill="#222"/>
<rect x="226.72" y="823.6" width="9.9" height="94.20" fill="#52C88A"/>
<circle cx="231.67" cy="918.8" r="0.7" fill="#222"/>
<rect x="237.58" y="835.9" width="9.9" height="81.90" fill="#52C88A"/>
<circle cx="242.53" cy="918.8" r="0.7" fill="#222"/>
<rect x="248.44" y="835.9" width="9.9" height="81.90" fill="#52C88A"/>
<circle cx="253.39" cy="918.8" r="0.7" fill="#222"/>
<rect x="259.30" y="845.3" width="9.9" height="72.50" fill="#52C88A"/>
<circle cx="264.25" cy="918.8" r="0.7" fill="#222"/>
<rect x="270.16" y="850.6" width="9.9" height="67.20" fill="#52C88A"/>
<circle cx="275.11" cy="918.8" r="0.7" fill="#222"/>
<rect x="281.02" y="851.7" width="9.9" height="66.10" fill="#52C88A"/>
<circle cx="285.97" cy="918.8" r="0.7" fill="#222"/>
<rect x="291.88" y="868.5" width="9.9" height="49.30" fill="#52C88A"/>
<circle cx="296.83" cy="918.8" r="0.7" fill="#222"/>
<rect x="302.74" y="877.3" width="9.9" height="40.50" fill="#52C88A"/>
<circle cx="307.69" cy="918.8" r="0.7" fill="#222"/>
<rect x="313.60" y="667.9" width="9.9" height="249.90" fill="#A9A62C"/>
<circle cx="318.55" cy="918.8" r="0.7" fill="#222"/>
<rect x="324.46" y="688.1" width="9.9" height="229.70" fill="#A9A62C"/>
<circle cx="329.41" cy="918.8" r="0.7" fill="#222"/>
<rect x="335.32" y="691.2" width="9.9" height="226.60" fill="#A9A62C"/>
<circle cx="340.27" cy="918.8" r="0.7" fill="#222"/>
<rect x="346.18" y="694.9" width="9.9" height="222.90" fill="#A9A62C"/>
<circle cx="351.13" cy="918.8" r="0.7" fill="#222"/>
<rect x="357.04" y="697.9" width="9.9" height="219.90" fill="#A9A62C"/>
<circle cx="361.99" cy="918.8" r="0.7" fill="#222"/>
<rect x="367.90" y="702.2" width="9.9" height="215.60" fill="#A9A62C"/>
<circle cx="372.85" cy="918.8" r="0.7" fill="#222"/>
<rect x="378.76" y="708" width="9.9" height="209.80" fill="#A9A62C"/>
<circle cx="383.71" cy="918.8" r="0.7" fill="#222"/>
<rect x="389.62" y="709.6" width="9.9" height="208.20" fill="#A9A62C"/>
<circle cx="394.57" cy="918.8" r="0.7" fill="#222"/>
<rect x="400.48" y="710.2" width="9.9" height="207.60" fill="#A9A62C"/>
<circle cx="405.43" cy="918.8" r="0.7" fill="#222"/>
<rect x="411.34" y="715.7" width="9.9" height="202.10" fill="#A9A62C"/>
<circle cx="416.29" cy="918.8" r="0.7" fill="#222"/>
<rect x="422.20" y="720.9" width="9.9" height="196.90" fill="#A9A62C"/>
<circle cx="427.15" cy="918.8" r="0.7" fill="#222"/>
<rect x="433.06" y="735.6" width="9.9" height="182.20" fill="#A9A62C"/>
<circle cx="438.01" cy="918.8" r="0.7" fill="#222"/>
<rect x="443.92" y="750" width="9.9" height="167.80" fill="#A9A62C"/>
<circle cx="448.87" cy="918.8" r="0.7" fill="#222"/>
<rect x="454.78" y="754" width="9.9" height="163.80" fill="#A9A62C"/>
<circle cx="459.73" cy="918.8" r="0.7" fill="#222"/>
<rect x="465.64" y="771.5" width="9.9" height="146.30" fill="#A9A62C"/>
<circle cx="470.59" cy="918.8" r="0.7" fill="#222"/>
<rect x="476.50" y="795.4" width="9.9" height="122.40" fill="#A9A62C"/>
<circle cx="481.45" cy="918.8" r="0.7" fill="#222"/>
<rect x="487.36" y="814.4" width="9.9" height="103.40" fill="#A9A62C"/>
<circle cx="492.31" cy="918.8" r="0.7" fill="#222"/>
<rect x="498.22" y="842" width="9.9" height="75.80" fill="#A9A62C"/>
<circle cx="503.17" cy="918.8" r="0.7" fill="#222"/>
<rect x="509.08" y="771.2" width="9.9" height="146.60" fill="#F77F74"/>
<circle cx="514.03" cy="918.8" r="0.7" fill="#222"/>
<rect x="519.94" y="775.1" width="9.9" height="142.70" fill="#F77F74"/>
<circle cx="524.89" cy="918.8" r="0.7" fill="#222"/>
<rect x="530.80" y="795" width="9.9" height="122.80" fill="#F77F74"/>
<circle cx="535.75" cy="918.8" r="0.7" fill="#222"/>
<rect x="541.66" y="797.4" width="9.9" height="120.40" fill="#F77F74"/>
<circle cx="546.61" cy="918.8" r="0.7" fill="#222"/>
<rect x="552.52" y="806.6" width="9.9" height="111.20" fill="#F77F74"/>
<circle cx="557.47" cy="918.8" r="0.7" fill="#222"/>
<rect x="563.38" y="839.5" width="9.9" height="78.30" fill="#F77F74"/>
<circle cx="568.33" cy="918.8" r="0.7" fill="#222"/>
<rect x="574.24" y="852.2" width="9.9" height="65.60" fill="#F77F74"/>
<circle cx="579.19" cy="918.8" r="0.7" fill="#222"/>
<rect x="585.10" y="852.6" width="9.9" height="65.20" fill="#F77F74"/>
<circle cx="590.05" cy="918.8" r="0.7" fill="#222"/>
<rect x="595.96" y="853.9" width="9.9" height="63.90" fill="#F77F74"/>
<circle cx="600.91" cy="918.8" r="0.7" fill="#222"/>
<rect x="606.82" y="862.5" width="9.9" height="55.30" fill="#F77F74"/>
<circle cx="611.77" cy="918.8" r="0.7" fill="#222"/>
<rect x="617.68" y="872.3" width="9.9" height="45.50" fill="#F77F74"/>
<circle cx="622.63" cy="918.8" r="0.7" fill="#222"/>
<rect x="628.54" y="884.4" width="9.9" height="33.40" fill="#F77F74"/>
<circle cx="633.49" cy="918.8" r="0.7" fill="#222"/>
<circle cx="640.7" cy="603.6" r="0.7" fill="#222"/>
<circle cx="640.7" cy="682.0" r="0.7" fill="#222"/>
<circle cx="640.7" cy="760.4" r="0.7" fill="#222"/>
<circle cx="640.7" cy="838.8" r="0.7" fill="#222"/>
<circle cx="640.7" cy="917.2" r="0.7" fill="#222"/>
<rect x="50.9" y="1041" width="34" height="10.7" fill="#CC79C7"/>
<rect x="50.9" y="1061.3" width="34" height="10.7" fill="#62AEDA"/>
<rect x="236" y="1040.3" width="34" height="10.7" fill="#52C88A"/>
<rect x="236" y="1063" width="34" height="10.7" fill="#A9A62C"/>
<rect x="440.4" y="1040.4" width="34" height="10.7" fill="#F77F74"/>
<text transform="translate(-1.12,15.60) scale(1.0000,1)" font-size="27" fill="#1a1a1a">a</text>
<text transform="translate(1.45,39.80) scale(1.0674,1)" font-size="20.6" fill="#111">Global allele frequency per chromosome</text>
<text transform="translate(8.03,59.00) scale(0.9311,1)" font-size="11" fill="#333">1.0</text>
<text transform="translate(7.48,145.20) scale(1.0931,1)" font-size="11" fill="#333">0.8</text>
<text transform="translate(7.38,230.10) scale(1.0793,1)" font-size="11" fill="#333">0.6</text>
<text transform="translate(7.39,317.10) scale(1.0671,1)" font-size="11" fill="#333">0.4</text>
<text transform="translate(9.09,403.60) scale(1.0626,1)" font-size="11" fill="#333">0.2</text>
<text transform="translate(13.64,485.70) scale(1.0500,1)" font-size="11" fill="#333">0</text>
<text transform="translate(42.12,498.30) scale(1.0500,1)" font-size="11" fill="#333">1</text>
<text transform="translate(57.47,498.30) scale(1.0500,1)" font-size="11" fill="#333">2</text>
<text transform="translate(73.82,498.30) scale(1.0500,1)" font-size="11" fill="#333">3</text>
<text transform="translate(89.02,498.30) scale(1.0500,1)" font-size="11" fill="#333">4</text>
<text transform="translate(103.09,498.30) scale(1.0500,1)" font-size="11" fill="#333">5</text>
<text transform="translate(119.34,498.30) scale(1.0500,1)" font-size="11" fill="#333">6</text>
<text transform="translate(133.37,498.30) scale(1.0500,1)" font-size="11" fill="#333">7</text>
<text transform="translate(149.79,498.30) scale(1.0500,1)" font-size="11" fill="#333">8</text>
<text transform="translate(164.49,498.30) scale(1.0500,1)" font-size="11" fill="#333">9</text>
<text transform="translate(175.35,498.30) scale(1.0500,1)" font-size="11" fill="#333">10</text>
<text transform="translate(191.84,498.30) scale(1.0500,1)" font-size="11" fill="#333">11</text>
<text transform="translate(205.41,498.30) scale(1.0500,1)" font-size="11" fill="#333">12</text>
<text transform="translate(221.18,498.30) scale(1.0500,1)" font-size="11" fill="#333">13</text>
<text transform="translate(236.29,498.30) scale(1.0500,1)" font-size="11" fill="#333">14</text>
<text transform="translate(250.38,498.30) scale(1.0500,1)" font-size="11" fill="#333">15</text>
<text transform="translate(265.18,498.30) scale(1.0500,1)" font-size="11" fill="#333">16</text>
<text transform="translate(280.41,498.30) scale(1.0500,1)" font-size="11" fill="#333">17</text>
<text transform="translate(295.18,498.30) scale(1.0500,1)" font-size="11" fill="#333">18</text>
<text transform="translate(310.61,498.30) scale(1.0500,1)" font-size="11" fill="#333">19</text>
<text transform="translate(330.13,498.30) scale(1.0500,1)" font-size="11" fill="#333">X</text>
<text transform="translate(32.10,524.60) scale(0.9240,1)" font-size="14.8" fill="#222">A/J</text>
<text transform="translate(71.41,524.60) scale(1.0725,1)" font-size="14.8" fill="#222">C57BL/6J</text>
<text transform="translate(154.92,524.60) scale(1.0609,1)" font-size="14.8" fill="#222">129S1/SvImJ</text>
<text transform="translate(265.22,524.90) scale(1.0775,1)" font-size="14.8" fill="#222">NOD/ShiLtJ</text>
<text transform="translate(30.33,544.10) scale(1.0698,1)" font-size="14.8" fill="#222">NZO/HILtJ</text>
<text transform="translate(123.71,544.10) scale(1.0631,1)" font-size="14.8" fill="#222">CAST/EiJ</text>
<text transform="translate(204.93,544.10) scale(1.0719,1)" font-size="14.8" fill="#222">PWK/PhJ</text>
<text transform="translate(287.70,544.10) scale(1.0567,1)" font-size="14.8" fill="#222">WSB/EiJ</text>
<text transform="translate(399.56,19.50) scale(1.0094,1)" font-size="27" fill="#111">b</text>
<text transform="translate(421.42,119.90) scale(1.0500,1)" font-size="14.5" fill="#222">40</text>
<text transform="translate(421.42,162.70) scale(1.0500,1)" font-size="14.5" fill="#222">30</text>
<text transform="translate(421.42,205.50) scale(1.0500,1)" font-size="14.5" fill="#222">20</text>
<text transform="translate(421.42,248.30) scale(1.0500,1)" font-size="14.5" fill="#222">10</text>
<text transform="translate(429.88,291.10) scale(1.0500,1)" font-size="14.5" fill="#222">0</text>
<text transform="translate(411.80,224.87) rotate(-90) scale(0.9815,1)" font-size="16.2" fill="#222">BV/TV (%)</text>
<text transform="translate(421.42,347.70) scale(1.0500,1)" font-size="14.5" fill="#222">60</text>
<text transform="translate(421.42,407.50) scale(1.0500,1)" font-size="14.5" fill="#222">40</text>
<text transform="translate(421.42,467.30) scale(1.0500,1)" font-size="14.5" fill="#222">20</text>
<text transform="translate(429.88,527.10) scale(1.0500,1)" font-size="14.5" fill="#222">0</text>
<text transform="translate(411.70,468.90) rotate(-90) scale(1.0311,1)" font-size="15.8" fill="#222">Max load (N)</text>
<text transform="translate(500.90,542.10) scale(1.0697,1)" font-size="15.2" fill="#222">DO mice (n=619)</text>
<text transform="translate(216.55,599.70) scale(1.0444,1)" font-size="19.8" fill="#111">Heritability of measured traits</text>
<text transform="translate(-0.22,656.50) scale(1.0387,1)" font-size="27" fill="#111">c</text>
<text transform="translate(49.75,937.31) rotate(-90) scale(1.0200,1)" font-size="11.7" fill="#111">ML</text>
<text transform="translate(60.61,934.66) rotate(-90) scale(1.0200,1)" font-size="11.7" fill="#111">FL</text>
<text transform="translate(71.47,936.80) rotate(-90) scale(1.0200,1)" font-size="11.7" fill="#111">AP</text>
<text transform="translate(82.33,966.73) rotate(-90) scale(1.0200,1)" font-size="11.7" fill="#111">MAT_V4</text>
<text transform="translate(93.19,966.09) rotate(-90) scale(1.0200,1)" font-size="11.7" fill="#111">MAT_V2</text>
<text transform="translate(104.05,966.15) rotate(-90) scale(1.0200,1)" font-size="11.7" fill="#111">MAT_V3</text>
<text transform="translate(114.91,966.49) rotate(-90) scale(1.0200,1)" font-size="11.7" fill="#111">MAT_V1</text>
<text transform="translate(125.77,990.93) rotate(-90) scale(1.0200,1)" font-size="11.7" fill="#111">histo_OV/TV</text>
<text transform="translate(136.63,1004.28) rotate(-90) scale(1.0200,1)" font-size="11.7" fill="#111">histo_NOb/TAR</text>
<text transform="translate(147.49,1004.81) rotate(-90) scale(1.0200,1)" font-size="11.7" fill="#111">histo_NOc/TAR</text>
<text transform="translate(158.35,988.69) rotate(-90) scale(1.0200,1)" font-size="11.7" fill="#111">histo_Tb.Sp</text>
<text transform="translate(169.21,992.21) rotate(-90) scale(1.0200,1)" font-size="11.7" fill="#111">histo_BV/TV</text>
<text transform="translate(180.07,1006.09) rotate(-90) scale(1.0200,1)" font-size="11.7" fill="#111">histo_NOb/Bpm</text>
<text transform="translate(190.93,979.79) rotate(-90) scale(1.0200,1)" font-size="11.7" fill="#111">histo_Tb.N</text>
<text transform="translate(201.79,997.79) rotate(-90) scale(1.0200,1)" font-size="11.7" fill="#111">histo_OcS/BS</text>
<text transform="translate(212.65,998.76) rotate(-90) scale(1.0200,1)" font-size="11.7" fill="#111">histo_ObS/BS</text>
<text transform="translate(223.51,985.23) rotate(-90) scale(1.0200,1)" font-size="11.7" fill="#111">histo_OTh</text>
<text transform="translate(234.37,1005.62) rotate(-90) scale(1.0200,1)" font-size="11.7" fill="#111">histo_NOc/Bpm</text>
<text transform="translate(245.23,989.08) rotate(-90) scale(1.0200,1)" font-size="11.7" fill="#111">histo_Tb.Th</text>
<text transform="translate(256.09,992.08) rotate(-90) scale(1.0200,1)" font-size="11.7" fill="#111">histo_BS/BV</text>
<text transform="translate(266.95,1009.91) rotate(-90) scale(1.0200,1)" font-size="11.7" fill="#111">histo_NOb/Opm</text>
<text transform="translate(277.81,1016.55) rotate(-90) scale(1.0200,1)" font-size="11.7" fill="#111">histo_NOb/Obpm</text>
<text transform="translate(288.67,999.68) rotate(-90) scale(1.0200,1)" font-size="11.7" fill="#111">histo_ObS/OS</text>
<text transform="translate(299.53,993.40) rotate(-90) scale(1.0200,1)" font-size="11.7" fill="#111">histo_OV/BV</text>
<text transform="translate(310.39,992.92) rotate(-90) scale(1.0200,1)" font-size="11.7" fill="#111">histo_OS/BS</text>
<text transform="translate(321.25,981.30) rotate(-90) scale(1.0200,1)" font-size="11.7" fill="#111">Ct.Ar/Tt.Ar</text>
<text transform="translate(332.11,956.17) rotate(-90) scale(1.0200,1)" font-size="11.7" fill="#111">Ma.Ar</text>
<text transform="translate(342.97,952.73) rotate(-90) scale(1.0200,1)" font-size="11.7" fill="#111">Ct.Ar</text>
<text transform="translate(353.83,954.15) rotate(-90) scale(1.0200,1)" font-size="11.7" fill="#111">Ct.Th</text>
<text transform="translate(364.69,952.50) rotate(-90) scale(1.0200,1)" font-size="11.7" fill="#111">Tt.Ar</text>
<text transform="translate(375.55,953.83) rotate(-90) scale(1.0200,1)" font-size="11.7" fill="#111">pMOI</text>
<text transform="translate(386.41,945.72) rotate(-90) scale(1.0200,1)" font-size="11.7" fill="#111">Imin</text>
<text transform="translate(397.27,950.99) rotate(-90) scale(1.0200,1)" font-size="11.7" fill="#111">TMD</text>
<text transform="translate(408.13,947.34) rotate(-90) scale(1.0200,1)" font-size="11.7" fill="#111">Imax</text>
<text transform="translate(418.99,951.74) rotate(-90) scale(1.0200,1)" font-size="11.7" fill="#111">Tb.N</text>
<text transform="translate(429.85,955.85) rotate(-90) scale(1.0200,1)" font-size="11.7" fill="#111">Tb.Sp</text>
<text transform="translate(440.71,952.46) rotate(-90) scale(1.0200,1)" font-size="11.7" fill="#111">BMD</text>
<text transform="translate(451.57,958.96) rotate(-90) scale(1.0200,1)" font-size="11.7" fill="#111">BV/TV</text>
<text transform="translate(462.43,965.00) rotate(-90) scale(1.0200,1)" font-size="11.7" fill="#111">Conn.D</text>
<text transform="translate(473.29,959.63) rotate(-90) scale(1.0200,1)" font-size="11.7" fill="#111">BS/BV</text>
<text transform="translate(484.15,955.54) rotate(-90) scale(1.0200,1)" font-size="11.7" fill="#111">Tb.Th</text>
<text transform="translate(495.01,947.57) rotate(-90) scale(1.0200,1)" font-size="11.7" fill="#111">SMI</text>
<text transform="translate(505.87,957.57) rotate(-90) scale(1.0200,1)" font-size="11.7" fill="#111">Ct.Por</text>
<text transform="translate(516.73,945.65) rotate(-90) scale(1.0200,1)" font-size="11.7" fill="#111">Ffx</text>
<text transform="translate(527.59,951.32) rotate(-90) scale(1.0200,1)" font-size="11.7" fill="#111">Fmax</text>
<text transform="translate(538.45,946.98) rotate(-90) scale(1.0200,1)" font-size="11.7" fill="#111">Dfx</text>
<text transform="translate(549.31,942.78) rotate(-90) scale(1.0200,1)" font-size="11.7" fill="#111">W</text>
<text transform="translate(560.17,949.57) rotate(-90) scale(1.0200,1)" font-size="11.7" fill="#111">Wpy</text>
<text transform="translate(571.03,960.60) rotate(-90) scale(1.0200,1)" font-size="11.7" fill="#111">DEmax</text>
<text transform="translate(581.89,955.00) rotate(-90) scale(1.0200,1)" font-size="11.7" fill="#111">Fyield</text>
<text transform="translate(592.75,955.67) rotate(-90) scale(1.0200,1)" font-size="11.7" fill="#111">Kyield</text>
<text transform="translate(603.61,936.93) rotate(-90) scale(1.0200,1)" font-size="11.7" fill="#111">k</text>
<text transform="translate(614.47,958.87) rotate(-90) scale(1.0200,1)" font-size="11.7" fill="#111">Wyield</text>
<text transform="translate(625.33,949.68) rotate(-90) scale(1.0200,1)" font-size="11.7" fill="#111">PYD</text>
<text transform="translate(636.19,957.53) rotate(-90) scale(1.0200,1)" font-size="11.7" fill="#111">Dyield</text>
<text transform="translate(653.50,613.30) rotate(-90) scale(1.0270,1)" font-size="13" fill="#222">1.00</text>
<text transform="translate(653.50,691.98) rotate(-90) scale(1.0530,1)" font-size="13" fill="#222">0.75</text>
<text transform="translate(653.50,767.84) rotate(-90) scale(0.9718,1)" font-size="13" fill="#222">0.5</text>
<text transform="translate(653.50,848.47) rotate(-90) scale(1.0406,1)" font-size="13" fill="#222">0.25</text>
<text transform="translate(653.50,920.48) rotate(-90) scale(1.0468,1)" font-size="13" fill="#222">0</text>
<text transform="translate(676.30,790.22) rotate(-90) scale(1.0197,1)" font-size="17.4" fill="#111">Heritability</text>
<text transform="translate(317.48,1021.40) scale(1.0317,1)" font-size="17.2" fill="#111">Phenotype</text>
<text transform="translate(91.51,1051.80) scale(0.9970,1)" font-size="16.2" fill="#222">Morphology</text>
<text transform="translate(91.51,1072.40) scale(0.9988,1)" font-size="16.2" fill="#222">Marrow adiposity</text>
<text transform="translate(275.90,1051.20) scale(1.0058,1)" font-size="16.2" fill="#222">Histomorphometry</text>
<text transform="translate(275.91,1072.90) scale(0.9945,1)" font-size="16.2" fill="#222">Microarchitecture</text>
<text transform="translate(480.29,1051.10) scale(1.0082,1)" font-size="16.2" fill="#222">Biomechanics</text>
</svg></body></html>
